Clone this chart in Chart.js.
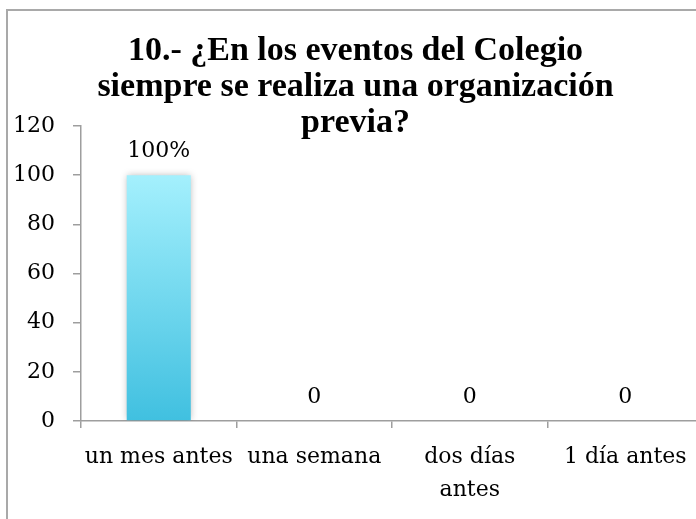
<!DOCTYPE html>
<html>
<head>
<meta charset="utf-8">
<script src="https://cdn.jsdelivr.net/npm/chart.js@4/dist/chart.umd.min.js"></script>
<style>
    body { margin: 0; background: #fff; overflow: hidden; width: 696px; height: 519px; }
    #box {
        position: absolute; left: 6px; top: 9px;
        width: 730px; height: 540px;
        border-left: 2px solid #a9a9a9;
        border-top: 2px solid #a9a9a9;
    }
    #chart { display: block; }
</style>
</head>
<body>
<div id="box"><canvas id="chart" width="720" height="530"></canvas></div>
<script>
const titleLines = ["10.- ¿En los eventos del Colegio", "siempre se realiza una organización", "previa?"]
const categories = ["un mes antes", "una semana", ["dos días", "antes"], "1 día antes"]
const values = [100, 0, 0, 0]
const valueLabels = ["100%", "0", "0", "0"]
const yMin = 0
const yMax = 120
const yStep = 20

const axisGrey = "#9e9e9e"
const tickFont = { family: "DejaVu Serif", size: 22, lineHeight: 1.5 }

// soft shadow behind the bars only
const barShadow = {
    id: "barShadow",
    beforeDatasetsDraw(chart) {
        chart.ctx.save()
        chart.ctx.shadowColor = "rgba(0,0,0,0.28)"
        chart.ctx.shadowBlur = 7
    },
    afterDatasetsDraw(chart) {
        chart.ctx.restore()
    }
}

// value text above each bar
const valueText = {
    id: "valueText",
    afterDatasetsDraw(chart) {
        var ctx = chart.ctx
        var bars = chart.getDatasetMeta(0).data
        ctx.save()
        ctx.font = "22px 'DejaVu Serif'"
        ctx.fillStyle = "#000"
        ctx.textAlign = "center"
        ctx.textBaseline = "alphabetic"
        bars.forEach((bar, i) => {
            ctx.fillText(valueLabels[i], bar.x, bar.y - 18)
        })
        ctx.restore()
    }
}

function barFill(context) {
    var chart = context.chart
    var y = chart.scales.y
    if (!chart.chartArea || !y) return "#6fd6ef"
    var top = y.getPixelForValue(Math.max(...values))
    var bottom = y.getPixelForValue(0)
    if (!isFinite(top) || !isFinite(bottom)) return "#6fd6ef"
    var g = chart.ctx.createLinearGradient(0, top, 0, bottom)
    g.addColorStop(0, "#a4f0fd")
    g.addColorStop(1, "#40c0e0")
    return g
}

const ctx = document.getElementById("chart")
var chart = new Chart(ctx, {
    type: "bar",
    data: {
        labels: categories,
        datasets: [{
            data: values,
            backgroundColor: barFill,
            borderWidth: 0,
            categoryPercentage: 1,
            barPercentage: 0.412,
        }],
    },
    options: {
        responsive: false,
        animation: false,
        layout: { padding: { left: 0, right: 25, top: 0, bottom: 0 } },
        plugins: {
            legend: { display: false },
            tooltip: { enabled: false },
            title: {
                display: true,
                text: titleLines,
                color: "#000",
                font: { family: "Liberation Serif", size: 34, weight: "bold", lineHeight: 1.05 },
                // title runs down into the plot, so the bottom padding is pulled back
                padding: { top: 22.6, bottom: -14.7 },
            },
        },
        scales: {
            x: {
                grid: { offset: true, drawOnChartArea: false, tickLength: 7, color: axisGrey, lineWidth: 1.5 },
                border: { color: axisGrey, width: 1.5 },
                ticks: { color: "#000", font: tickFont, padding: 13, maxRotation: 0, autoSkip: false },
                afterFit(scale) { scale.height = 120 },
            },
            y: {
                min: yMin,
                max: yMax,
                grid: { drawOnChartArea: false, tickLength: 8, color: axisGrey, lineWidth: 1.5 },
                border: { color: axisGrey, width: 1.5 },
                ticks: { stepSize: yStep, color: "#000", font: tickFont, padding: 18 },
                afterFit(scale) { scale.width = 73 },
            },
        },
    },
    plugins: [barShadow, valueText],
})
</script>
</body>
</html>
